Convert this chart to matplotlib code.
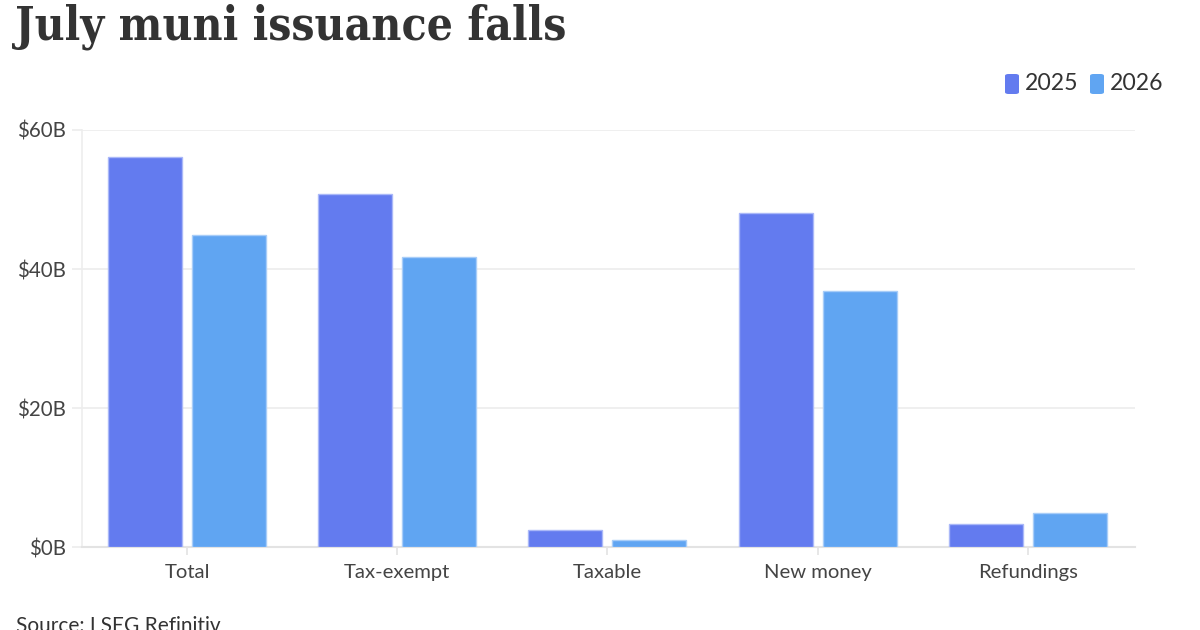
import matplotlib
matplotlib.use("Agg")
import matplotlib.pyplot as plt
import numpy as np
from matplotlib.patches import FancyBboxPatch

categories = ["Total", "Tax-exempt", "Taxable", "New money", "Refundings"]
series_names = ["2025", "2026"]
values_2025 = [56.1, 50.8, 2.5, 48.0, 3.4]
values_2026 = [44.9, 41.8, 1.05, 36.9, 5.0]
y_ticks = [0, 20, 40, 60]
y_tick_labels = ["$0B", "$20B", "$40B", "$60B"]

c2025 = "#637BEF"
c2026 = "#60A5F2"

fig = plt.figure(figsize=(12, 6.3), dpi=100)
ax = fig.add_axes([82/1200, 1-547.3/630, (1135-82)/1200, (547.3-130)/630])

x = np.arange(len(categories))
w = 0.352
ax.bar(x - 0.2, values_2025, width=w, color=c2025, edgecolor="#aab8f8", linewidth=1.0, zorder=3)
ax.bar(x + 0.2, values_2026, width=w, color=c2026, edgecolor="#a8cdf8", linewidth=1.0, zorder=3)

ax.set_xlim(-0.5, 4.51)
ax.set_ylim(0, 60)
ax.set_yticks(y_ticks)
ax.set_yticklabels(y_tick_labels)
ax.set_xticks(x)
ax.set_xticklabels(categories)

for s in ["top", "right"]:
    ax.spines[s].set_visible(False)
ax.spines["left"].set_color("#ededed")
ax.spines["left"].set_linewidth(1.2)
ax.spines["bottom"].set_color("#e3e3e3")
ax.spines["bottom"].set_linewidth(1.5)
ax.grid(axis="y", color="#ececec", linewidth=1.2, zorder=0)
ax.set_axisbelow(True)

ax.tick_params(axis="y", length=7.5, width=1.2, color="#ececec", pad=4,
               labelsize=14.8, labelcolor="#444444")
ax.tick_params(axis="x", length=6, width=1.2, color="#e3e3e3", pad=6,
               labelsize=14.6, labelcolor="#444444")
for lab in ax.get_xticklabels() + ax.get_yticklabels():
    lab.set_family("Lato")

# Title
fig.text(15/1200, 1-40/630, "July muni issuance falls", family="DejaVu Serif",
         stretch="condensed", weight="bold", fontsize=33, color="#333333",
         ha="left", va="baseline")

# Legend
leg_y = 1-84/630
for xpx, col, name in [(1005, c2025, "2025"), (1090, c2026, "2026")]:
    box = FancyBboxPatch((xpx/1200, leg_y - 10/630), 14/1200, 20/630,
                         boxstyle="round,pad=0,rounding_size=0.003",
                         transform=fig.transFigure, facecolor=col, edgecolor="none")
    fig.patches.append(box)
    fig.text((xpx+20)/1200, leg_y, name, family="Lato", fontsize=16.6,
             color="#333333", ha="left", va="center")

fig.text(16/1200, 1-632/630, "Source: LSEG Refinitiv", family="Lato", fontsize=15,
         color="#333333", ha="left", va="baseline")

fig.savefig("out.png", dpi=100, facecolor="white")
